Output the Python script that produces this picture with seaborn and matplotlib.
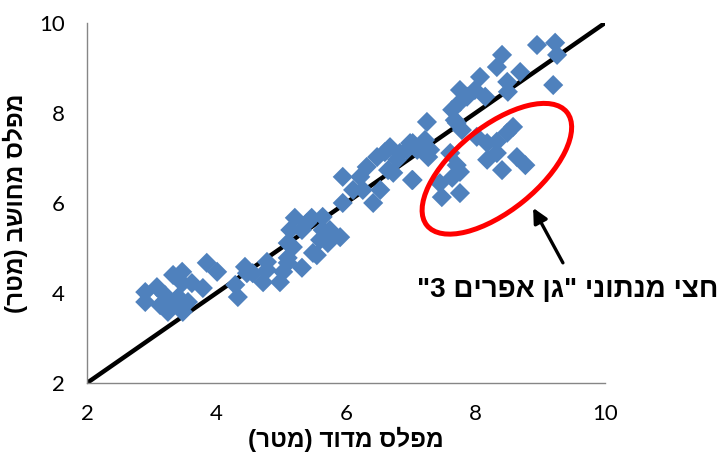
import matplotlib
matplotlib.use("Agg")
import matplotlib.pyplot as plt
import seaborn as sns
from matplotlib.patches import Ellipse
from matplotlib.transforms import ScaledTranslation

# measured vs computed level (m)
measured = [2.90, 2.90, 3.08, 3.20, 3.13, 3.25, 3.33, 3.47, 3.47, 3.41, 3.36, 3.56, 3.48,
            3.85, 4.01, 3.79, 3.62,
            4.29, 4.44, 4.33, 4.56, 4.78, 4.72, 4.98, 5.10, 5.18, 5.32, 5.49,
            4.47, 4.78, 5.03, 5.10, 5.55, 5.14, 5.21, 5.32, 5.40, 5.47, 5.64, 5.64,
            5.75, 5.91, 5.72, 5.60, 5.10, 5.95, 6.11, 6.26, 6.42, 6.22, 6.32, 6.48,
            6.53, 5.95, 6.65, 6.73, 6.79, 6.94, 7.03, 7.19, 7.02, 7.27, 7.22, 6.60,
            8.95, 9.23, 9.26, 9.20, 8.69, 8.41, 8.33, 8.49, 8.50, 8.07, 7.99, 8.15,
            7.76, 7.76, 7.87, 7.64, 7.25, 7.68, 7.79, 8.02, 6.99, 6.68, 7.10, 6.83,
            7.71, 8.18, 8.33, 8.58, 8.49, 8.33, 8.18, 8.64, 8.77, 8.41, 7.71, 7.76,
            7.64, 7.45, 7.48, 7.76, 7.03, 7.61, 7.30]
computed = [4.02, 3.80, 4.13, 3.96, 3.73, 3.58, 4.40, 4.47, 4.22, 3.91, 3.78, 3.80, 3.58,
            4.67, 4.47, 4.11, 4.22,
            4.18, 4.58, 3.91, 4.44, 4.51, 4.24, 4.24, 4.67, 5.02, 4.56, 4.89,
            4.44, 4.69, 4.47, 4.78, 4.84, 5.40, 5.67, 5.40, 5.56, 5.67, 5.69, 5.40,
            5.40, 5.24, 5.11, 5.18, 5.11, 6.00, 6.29, 6.29, 6.00, 6.58, 6.80, 7.02,
            6.29, 6.58, 6.73, 6.67, 6.96, 7.18, 7.33, 7.18, 6.51, 7.02, 7.40, 7.13,
            9.51, 9.56, 9.29, 8.62, 8.91, 9.29, 9.02, 8.69, 8.47, 8.80, 8.51, 8.36,
            8.51, 8.24, 8.36, 8.07, 7.80, 7.84, 7.62, 7.47, 7.33, 7.24, 7.18, 7.11,
            7.78, 7.33, 7.36, 7.69, 7.56, 7.11, 6.96, 7.02, 6.84, 6.73, 6.84, 6.69,
            6.56, 6.44, 6.13, 6.22, 6.51, 7.11, 7.18]
ticks = [2, 4, 6, 8, 10]
xlabel = "מפלס מדוד (מטר)"
ylabel = "מפלס מחושב (מטר)"
note = 'חצי מנתוני "גן אפרים 3"'


def rtl(s):
    # matplotlib has no bidi: reverse and mirror brackets
    mirror = {"(": ")", ")": "("}
    return "".join(mirror.get(c, c) for c in reversed(s))


sns.set_style("white")
# seaborn greys the text, the original is plain black
plt.rcParams.update({"text.color": "black", "axes.labelcolor": "black",
                     "xtick.color": "black", "ytick.color": "black"})
heb = ["Liberation Sans", "DejaVu Sans"]

fig = plt.figure(figsize=(7.23, 4.59), dpi=100)
ax = fig.add_axes([0.1203, 0.1656, 0.7165, 0.7844])

ax.plot([2, 10], [2, 10], color="black", lw=3.2, zorder=1, solid_capstyle="butt")
sns.scatterplot(x=measured, y=computed, marker="D", s=105, color="#4F81BD",
                edgecolor="none", linewidth=0, ax=ax, zorder=2)

ax.set_xlim(2, 10)
ax.set_ylim(2, 10)
ax.set_xticks(ticks)
ax.set_yticks(ticks)
ax.tick_params(length=0, labelsize=16)
ax.tick_params(axis="x", pad=15)
ax.tick_params(axis="y", pad=16)
for lab in ax.get_xticklabels() + ax.get_yticklabels():
    lab.set_family(["Lato", "DejaVu Sans"])
for side in ["top", "right"]:
    ax.spines[side].set_visible(False)
for side in ["left", "bottom"]:
    ax.spines[side].set_color("#868686")
    ax.spines[side].set_linewidth(1)

ax.set_xlabel(rtl(xlabel), family=heb, fontsize=17.5, fontweight="bold", labelpad=2)
ax.set_ylabel(rtl(ylabel), family=heb, fontsize=17.5, fontweight="bold", labelpad=8)

# red ellipse drawn in inches around data centre so the tilt isn't sheared
ell = Ellipse((0, 0), 1.80, 0.84, angle=39, fill=False, edgecolor="#FF0000", lw=3.6,
              transform=fig.dpi_scale_trans + ScaledTranslation(8.33, 6.76, ax.transData),
              zorder=3)
ax.add_patch(ell)

ax.annotate("", xy=(8.89, 5.89), xytext=(9.35, 4.67),
            arrowprops=dict(arrowstyle="-|>", color="black", lw=2.4, mutation_scale=22,
                            shrinkA=0, shrinkB=0), annotation_clip=False)
ax.text(9.43, 4.07, rtl(note), family=heb, fontsize=20, fontweight="bold",
        ha="center", va="center", clip_on=False)

fig.savefig("out.png", dpi=100)
